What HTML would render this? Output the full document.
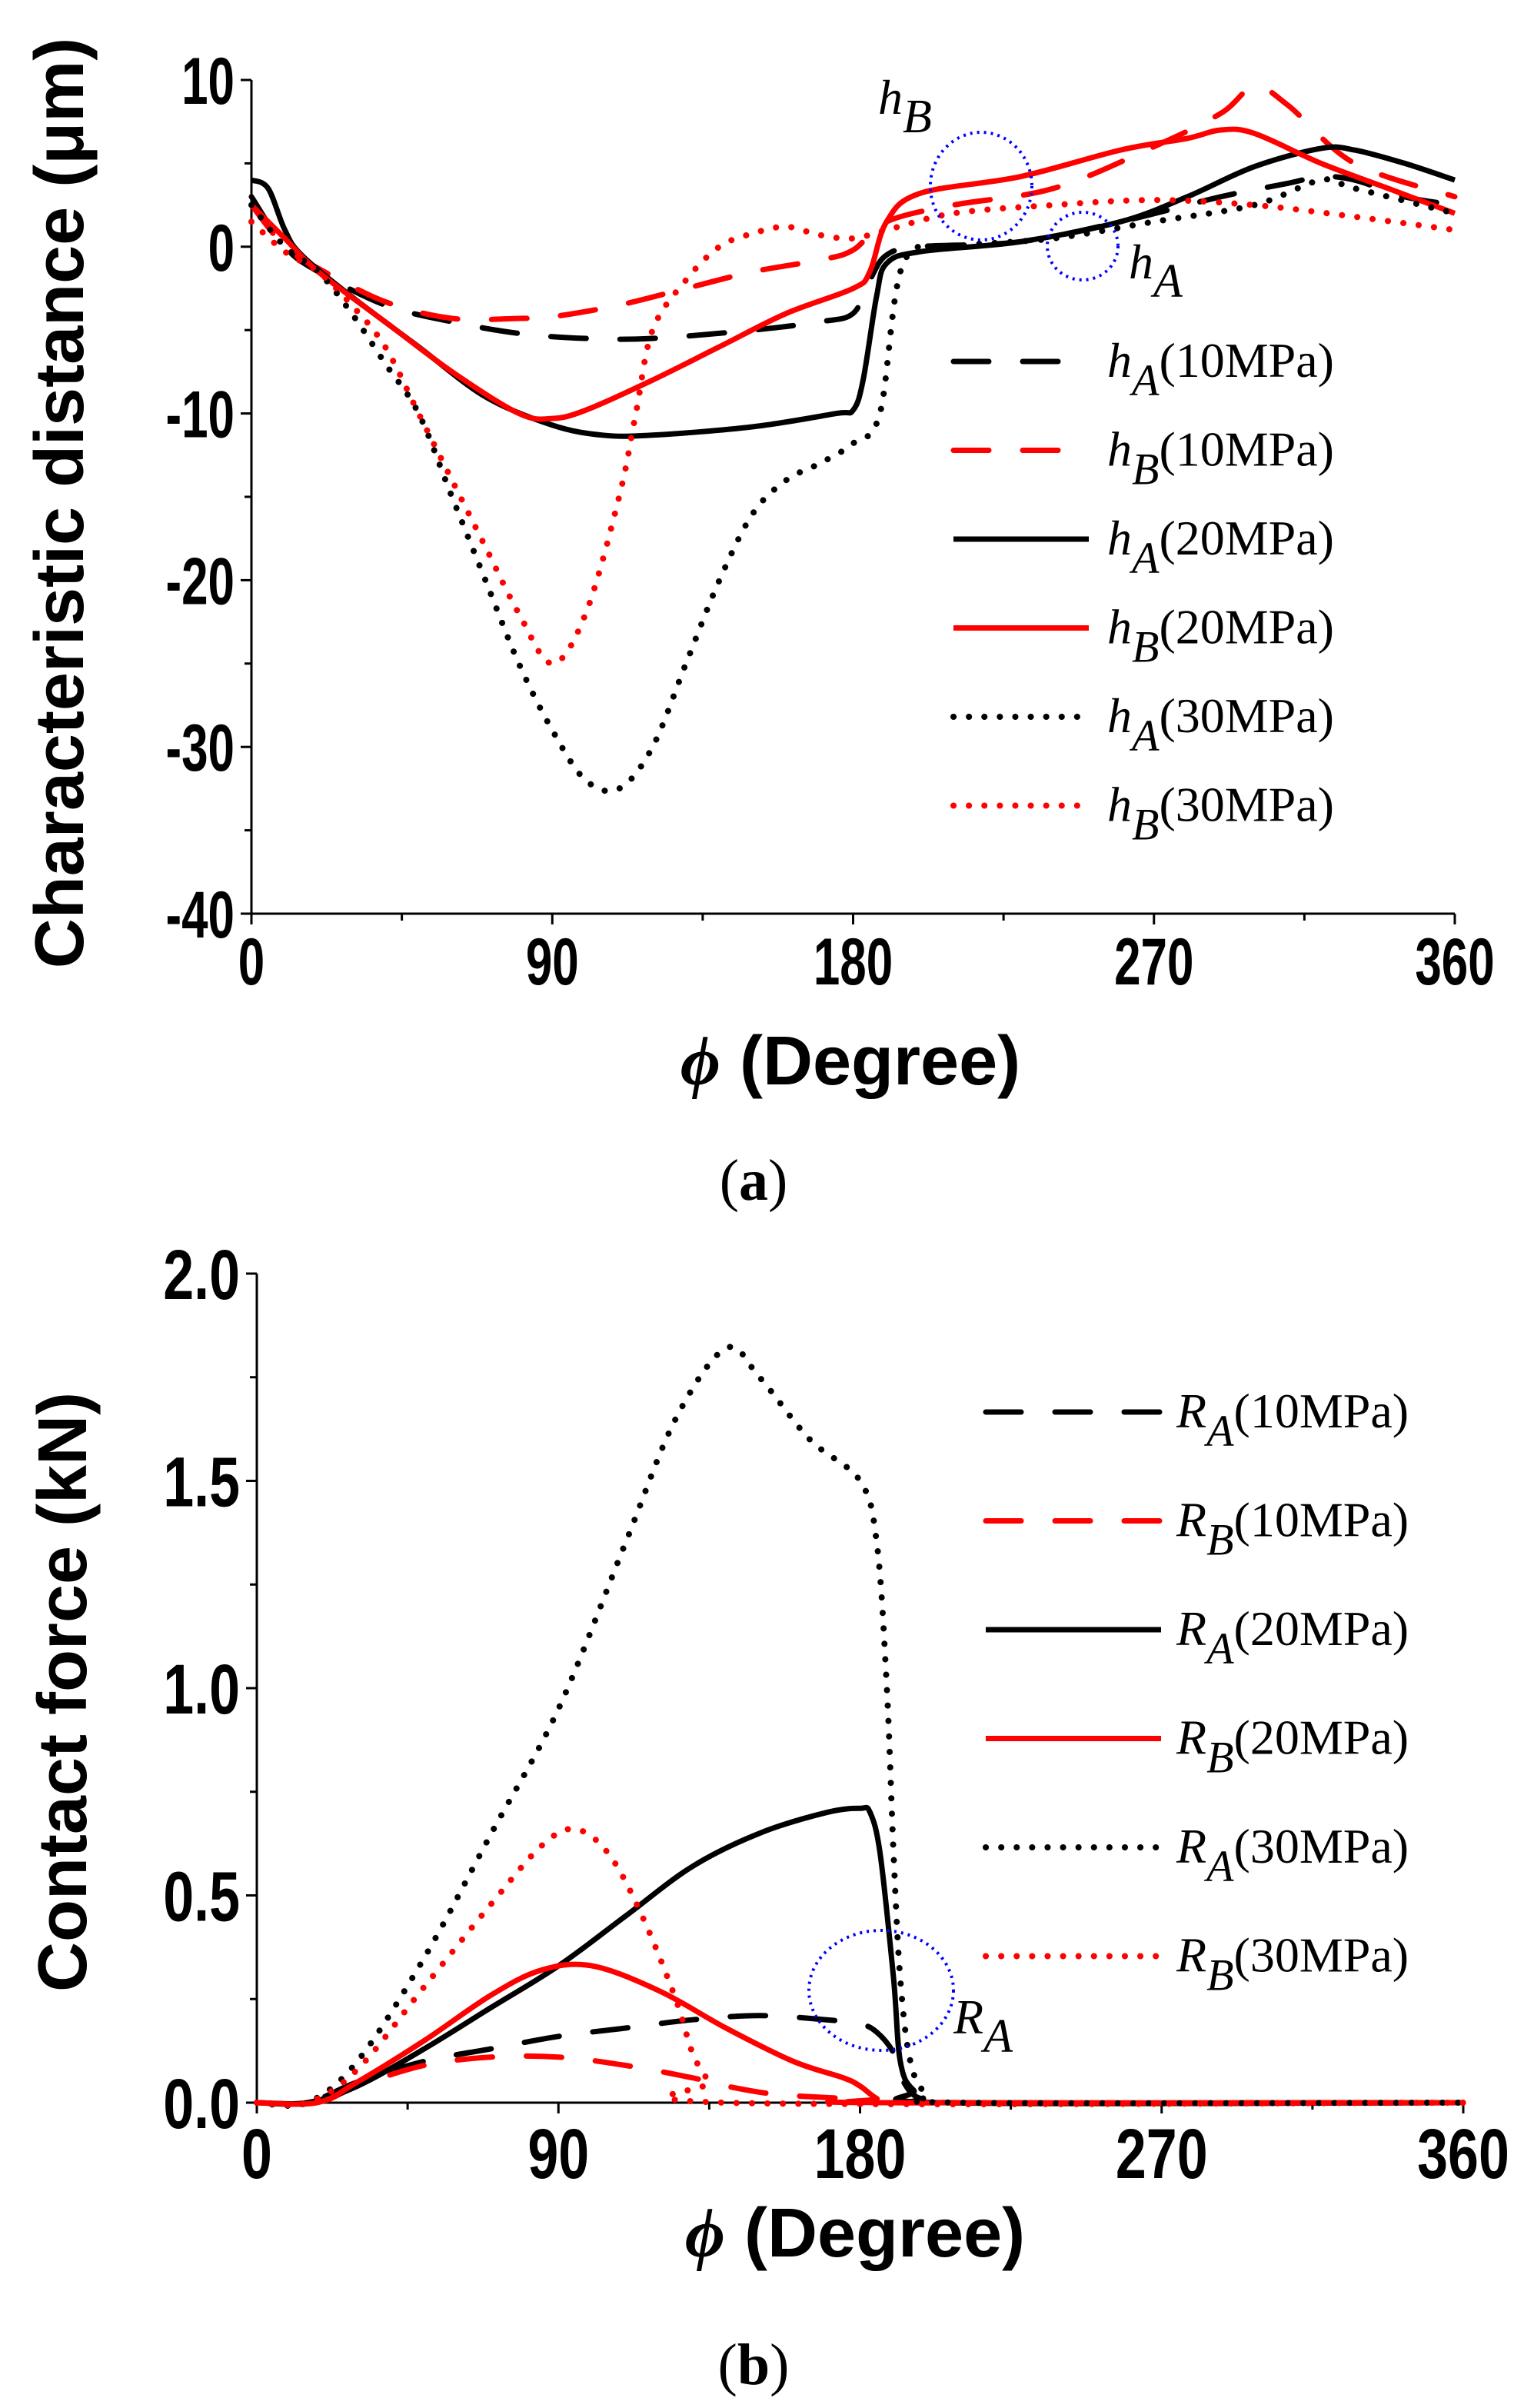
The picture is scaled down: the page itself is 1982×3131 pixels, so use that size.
<!DOCTYPE html>
<html><head><meta charset="utf-8"><style>
html,body{margin:0;padding:0;background:#fff;}
svg{display:block;}
.tk{font-family:"Liberation Sans",Arial,sans-serif;font-weight:bold;fill:#000;}
.ti{font-family:"Liberation Sans",Arial,sans-serif;font-weight:bold;font-size:90px;fill:#000;}
.lg{font-family:"Liberation Serif","Times New Roman",serif;font-size:64px;fill:#000;}
.cap{font-family:"Liberation Serif","Times New Roman",serif;font-size:76px;fill:#000;}
</style></head><body>
<svg id="chart" xmlns="http://www.w3.org/2000/svg" width="1982" height="3131" viewBox="0 0 1982 3131">
<rect width="1982" height="3131" fill="#fff"/>
<g id="pa"></g>
<g id="pb"></g>
</svg>
<script>
// ---- Panel (a) data ----
const aA10x=[0,10,20,40,60,80,100,120,150,170,180,185,190,200,230,260,290,310,320,330,345,360];
const aA10y=[3,0,-1.5,-3.5,-4.5,-5.2,-5.5,-5.5,-5,-4.5,-4,-2,-0.5,0,0.3,1.5,3,3.8,4.2,4,3,2.5];
const aB10x=[0,10,20,40,60,80,90,110,130,150,170,180,190,210,240,270,290,300,310,330,360];
const aB10y=[2.5,0,-1.3,-3.3,-4.3,-4.3,-4.2,-3.5,-2.5,-1.5,-0.8,-0.2,1.5,2.5,3.5,6,8,9.6,8.5,5,3];
const aA20x=[0,5,10,15,30,50,70,90,105,120,150,175,180,183,187,190,200,230,260,280,300,320,330,345,360];
const aA20y=[4,3.5,1,-0.5,-3,-6,-9,-10.7,-11.3,-11.3,-10.8,-10,-9.8,-8,-3,-1,-0.3,0.3,1.5,3,4.8,5.9,5.8,5,4];
const aB20x=[0,10,20,40,60,80,90,100,120,140,160,180,185,190,200,230,260,280,290,300,320,340,360];
const aB20y=[2.5,0.5,-1.5,-4.5,-7.5,-10,-10.3,-9.8,-8,-6,-4,-2.5,-1.5,1.5,3.2,4.2,5.8,6.5,7,6.8,5,3.5,2];
const aA30x=[0,10,20,30,40,50,60,70,80,90,100,110,120,130,140,150,160,170,180,188,195,210,240,270,300,320,330,360];
const aA30y=[2.5,0,-1.5,-4,-7,-10,-15,-20,-25,-29,-32,-32.5,-30,-25,-20,-16,-14,-13,-11.8,-10,-1,0,0.5,1.5,2.5,4,3.5,2];
const aB30x=[0,10,20,30,40,50,60,70,80,90,100,110,115,120,130,140,150,160,170,180,190,210,240,270,300,330,360];
const aB30y=[1.5,-0.3,-1.5,-3.5,-6,-10,-14,-18,-22,-25,-22,-15,-10,-5,-2,0,0.8,1.2,0.7,0.5,1,2,2.5,2.8,2.5,1.8,1];
const aYTicks=[10,0,-10,-20,-30,-40];
const xTicks=[0,90,180,270,360];
// ---- Panel (b) data ----
const bA10x=[0,15,30,50,70,90,110,130,150,170,180,185,190,193,198,210,360];
const bA10y=[0,0,0.05,0.1,0.13,0.16,0.18,0.2,0.21,0.2,0.19,0.17,0.12,0.05,0.01,0,0];
const bB10x=[0,18,30,50,70,90,110,130,140,155,175,185,360];
const bB10y=[0,0,0.04,0.09,0.11,0.11,0.09,0.06,0.04,0.02,0.01,0,0];
const bA20x=[0,15,30,50,70,90,110,130,150,170,180,183,186,190,192,196,205,360];
const bA20y=[0,0,0.04,0.13,0.23,0.33,0.45,0.57,0.65,0.7,0.71,0.7,0.6,0.3,0.1,0.03,0,0];
const bB20x=[0,18,30,50,70,85,100,120,140,160,175,180,185,190,360];
const bB20y=[0,0,0.05,0.15,0.26,0.32,0.33,0.27,0.18,0.1,0.06,0.04,0.01,0,0];
const bA30x=[0,15,30,50,70,90,110,125,140,150,165,180,185,188,190,192,195,200,210,360];
const bA30y=[0,0,0.1,0.35,0.65,0.95,1.35,1.65,1.82,1.75,1.6,1.5,1.35,1.0,0.6,0.3,0.1,0.02,0,0];
const bB30x=[0,15,30,50,70,85,95,105,115,125,130,135,140,360];
const bB30y=[0,0,0.08,0.28,0.48,0.62,0.66,0.6,0.45,0.25,0.12,0.05,0,0];
const bYTicks=[2.0,1.5,1.0,0.5,0.0];

const NS="http://www.w3.org/2000/svg";
function mk(tag,parent,attrs){const e=document.createElementNS(NS,tag);for(const k in attrs)e.setAttribute(k,attrs[k]);parent.appendChild(e);return e;}
function smooth(pts){let d="M"+pts[0][0].toFixed(1)+","+pts[0][1].toFixed(1);
 for(let i=0;i<pts.length-1;i++){const p0=pts[i-1]||pts[i],p1=pts[i],p2=pts[i+1],p3=pts[i+2]||p2;
 const c1=[p1[0]+(p2[0]-p0[0])/6,p1[1]+(p2[1]-p0[1])/6],c2=[p2[0]-(p3[0]-p1[0])/6,p2[1]-(p3[1]-p1[1])/6];
 d+="C"+c1[0].toFixed(1)+","+c1[1].toFixed(1)+" "+c2[0].toFixed(1)+","+c2[1].toFixed(1)+" "+p2[0].toFixed(1)+","+p2[1].toFixed(1);}
 return d;}
const STY={dash:{"stroke-dasharray":"46 44","stroke-linecap":"round"},solid:{},dot:{"stroke-dasharray":"0.1 20","stroke-linecap":"round"}};
function styleLine(e,col,kind){e.setAttribute("stroke",col);e.setAttribute("fill","none");e.setAttribute("stroke-width",kind==="dot"?"8":"7");for(const k in STY[kind])e.setAttribute(k,STY[kind][k]);}

function panel(g,cfg){
 const X=v=>cfg.x0+(v/360)*(cfg.x1-cfg.x0);
 const Y=v=>cfg.yTop+(cfg.vTop-v)/(cfg.vTop-cfg.vBot)*(cfg.yBot-cfg.yTop);
 const ax=mk("line",g,{x1:X(0),y1:cfg.yTop,x2:X(0),y2:cfg.yBot,stroke:"#000","stroke-width":3});
 
 
 const bx=mk("line",g,{x1:X(0),y1:cfg.yBot,x2:X(360),y2:cfg.yBot,stroke:"#000","stroke-width":3});
 
 
 for(let v=0;v<=360;v+=45){const L=v%90===0?14:9;const t=mk("line",g,{x1:X(v),y1:cfg.yBot,x2:X(v),y2:cfg.yBot+L,stroke:"#000","stroke-width":3});
  
  }
 xTicks.forEach(v=>{const t=mk("text",g,{transform:"translate("+X(v)+","+(cfg.yBot+cfg.tlOff)+") scale("+cfg.sx+",1)","text-anchor":"middle",class:"tk","font-size":cfg.fs});t.textContent=v;
  
  });
 const step=cfg.yt[0]-cfg.yt[1];
 for(let v=cfg.vBot;v<=cfg.vTop+1e-9;v+=step/2){const maj=Math.abs(((v-cfg.vBot)/step)-Math.round((v-cfg.vBot)/step))<1e-6;
  const t=mk("line",g,{x1:X(0)-(maj?14:9),y1:Y(v),x2:X(0),y2:Y(v),stroke:"#000","stroke-width":3});
  
  }
 cfg.yt.forEach(v=>{const t=mk("text",g,{transform:"translate("+(X(0)-22)+","+(Y(v)+cfg.fs*0.36)+") scale("+cfg.sx+",1)","text-anchor":"end",class:"tk","font-size":cfg.fs});t.textContent=cfg.fmt(v);
  
  });
 cfg.series.forEach(s=>{const p=mk("path",g,{d:smooth(s.x.map((v,i)=>[X(v),Y(s.y[i])]))});styleLine(p,s.col,s.kind);
  
  });
 cfg.series.forEach((s,i)=>{const yy=cfg.lgY+i*cfg.lgDy;
  const l=mk("line",g,{x1:cfg.lgX0,y1:yy,x2:cfg.lgX1,y2:yy});styleLine(l,s.col,s.kind);
  
  
  const t=mk("text",g,{x:cfg.lgTx,y:yy+20,class:"lg"});
  
  
  t.innerHTML='<tspan font-style="italic">'+cfg.sym+'</tspan><tspan font-style="italic" dy="24" font-size="58">'+s.sub+'</tspan><tspan dy="-24">('+s.p+'MPa)</tspan>';});
}
panel(document.getElementById("pa"),{x0:327,x1:1892,yTop:104,yBot:1188,vTop:10,vBot:-40,yt:aYTicks,fmt:v=>String(v),tlOff:92,fs:86,sx:0.72,
 lgX0:1240,lgX1:1416,lgTx:1440,lgY:470,lgDy:115.5,sym:"h",
 series:[{x:aA10x,y:aA10y,col:"#000",kind:"dash",sub:"A",p:10,name:"hA-10MPa-line"},
 {x:aB10x,y:aB10y,col:"#f00",kind:"dash",sub:"B",p:10,name:"hB-10MPa-line"},
 {x:aA20x,y:aA20y,col:"#000",kind:"solid",sub:"A",p:20,name:"hA-20MPa-line"},
 {x:aB20x,y:aB20y,col:"#f00",kind:"solid",sub:"B",p:20,name:"hB-20MPa-line"},
 {x:aA30x,y:aA30y,col:"#000",kind:"dot",sub:"A",p:30,name:"hA-30MPa-line"},
 {x:aB30x,y:aB30y,col:"#f00",kind:"dot",sub:"B",p:30,name:"hB-30MPa-line"}]});
panel(document.getElementById("pb"),{x0:334,x1:1903,yTop:1656,yBot:2734,vTop:2,vBot:0,yt:bYTicks,fmt:v=>v.toFixed(1),tlOff:98,fs:92,sx:0.78,
 lgX0:1282,lgX1:1510,lgTx:1530,lgY:1836,lgDy:141.5,sym:"R",
 series:[{x:bA10x,y:bA10y,col:"#000",kind:"dash",sub:"A",p:10,name:"RA-10MPa-line"},
 {x:bB10x,y:bB10y,col:"#f00",kind:"dash",sub:"B",p:10,name:"RB-10MPa-line"},
 {x:bA20x,y:bA20y,col:"#000",kind:"solid",sub:"A",p:20,name:"RA-20MPa-line"},
 {x:bB20x,y:bB20y,col:"#f00",kind:"solid",sub:"B",p:20,name:"RB-20MPa-line"},
 {x:bA30x,y:bA30y,col:"#000",kind:"dot",sub:"A",p:30,name:"RA-30MPa-line"},
 {x:bB30x,y:bB30y,col:"#f00",kind:"dot",sub:"B",p:30,name:"RB-30MPa-line"}]});
</script>
<svg style="position:absolute;left:0;top:0" width="1982" height="3131">
<text class="ti" transform="translate(108,654) rotate(-90)" text-anchor="middle">Characteristic distance (μm)</text>
<text class="ti" x="1106" y="1410" text-anchor="middle"><tspan font-style="italic" font-family="Liberation Serif">ϕ</tspan> (Degree)</text>
<text class="cap" x="980" y="1560" text-anchor="middle">(<tspan font-weight="bold">a</tspan>)</text>
<text class="ti" transform="translate(112,2200) rotate(-90)" text-anchor="middle">Contact force (kN)</text>
<text class="ti" x="1112" y="2934" text-anchor="middle"><tspan font-style="italic" font-family="Liberation Serif">ϕ</tspan> (Degree)</text>
<text class="cap" x="980" y="3100" text-anchor="middle">(<tspan font-weight="bold">b</tspan>)</text>
<ellipse cx="1276" cy="242" rx="66" ry="70" fill="none" stroke="#0000ff" stroke-width="4" stroke-dasharray="3 6"/>
<ellipse cx="1408" cy="320" rx="46" ry="44" fill="none" stroke="#0000ff" stroke-width="4" stroke-dasharray="3 6"/>
<ellipse cx="1146" cy="2588" rx="94" ry="78" fill="none" stroke="#0000ff" stroke-width="4" stroke-dasharray="3 6"/>
<text class="lg" x="1142" y="148" font-size="76"><tspan font-style="italic">h</tspan><tspan font-style="italic" dy="24" font-size="62">B</tspan></text>
<text class="lg" x="1468" y="362" font-size="76"><tspan font-style="italic">h</tspan><tspan font-style="italic" dy="24" font-size="62">A</tspan></text>
<text class="lg" x="1240" y="2644" font-size="76"><tspan font-style="italic">R</tspan><tspan font-style="italic" dy="24" font-size="62">A</tspan></text>
</svg>
</body></html>
